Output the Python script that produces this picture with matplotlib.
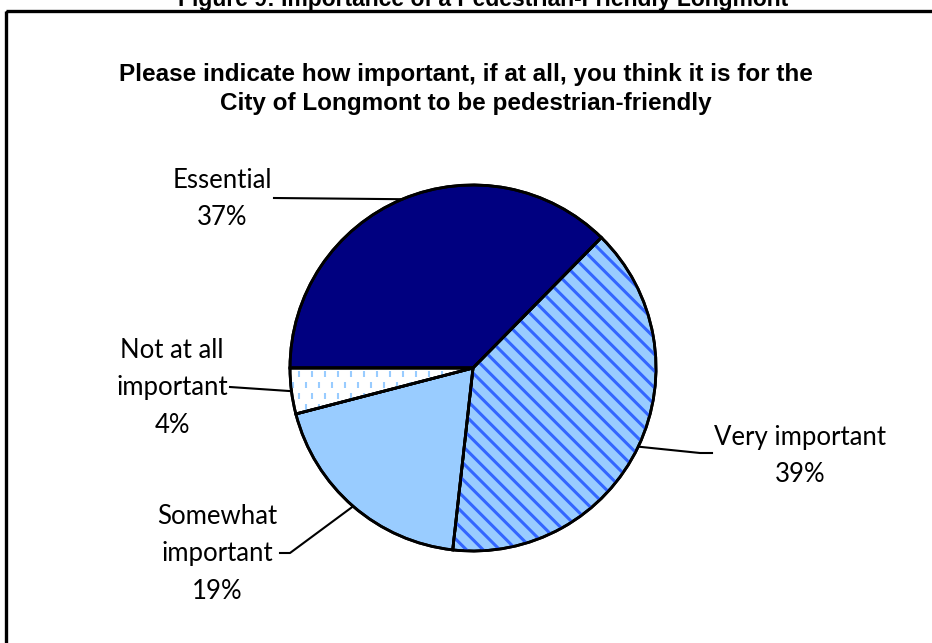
import numpy as np
import matplotlib
matplotlib.use("Agg")
import matplotlib.pyplot as plt
from matplotlib.patches import Wedge, Rectangle
from matplotlib.collections import LineCollection

########  data  ########

labels = ["Essential", "Very important", "Somewhat\nimportant", "Not at all\nimportant"]
values = [37, 39, 19, 4]
pct_labels = ["37%", "39%", "19%", "4%"]
colors = ["#000080", "#99CCFF", "#99CCFF", "#FFFFFF"]

title = ("Please indicate how important, if at all, you think it is for the\n"
         "City of Longmont to be pedestrian-friendly")
fig_title = "Figure 9: Importance of a Pedestrian-Friendly Longmont"

########  layout (pixel coords, y down)  ########

cx, cy, r = 473, 368, 183
label_xy = [(222, 199), (800, 456), (217, 554), (172, 388)]
leader_knees = [[(274, 198)], [(712, 453), (700, 453)], [(280, 553), (290, 553)], [(230, 387)]]

label_font = ["Lato", "DejaVu Sans"]
title_font = ["Liberation Sans", "DejaVu Sans"]

plt.rcParams["hatch.linewidth"] = 2.2

fig = plt.figure(figsize=(9.32, 6.43), dpi=100)
ax = fig.add_axes([0, 0, 1, 1])

wedges, _ = ax.pie(values, colors=colors, startangle=180, counterclock=True,
                   center=(cx, cy), radius=r,
                   wedgeprops=dict(edgecolor="black", linewidth=2))
ax.set_xlim(0, 932)
ax.set_ylim(643, 0)
ax.set_aspect("auto")
ax.axis("off")

# striped fill for "Very important"
w = wedges[1]
ax.add_patch(Wedge((cx, cy), r, w.theta1, w.theta2, facecolor="none",
                   edgecolor="#3366FF", linewidth=0, hatch="\\\\", zorder=2))

# short dashes for "Not at all important"
w = wedges[3]
segs = []
for j, yy in enumerate(np.arange(360, 420, 11)):
    off = 6 if j % 2 else 0
    for xx in np.arange(280 + off, 480, 13):
        segs.append([(xx, yy), (xx, yy + 6)])
lc = LineCollection(segs, colors="#99CCFF", linewidths=1.5, zorder=2)
ax.add_collection(lc)
lc.set_clip_path(w)

# outlines on top
for w in wedges:
    ax.add_patch(Wedge((cx, cy), r, w.theta1, w.theta2, fill=False,
                       edgecolor="black", linewidth=2, zorder=3))

# labels and leader lines
for w, lab, pct, (tx, ty), knees in zip(wedges, labels, pct_labels, label_xy, leader_knees):
    ax.text(tx, ty, lab + "\n" + pct, ha="center", va="center", fontsize=18.5,
            family=label_font, linespacing=1.62)
    a = np.deg2rad((w.theta1 + w.theta2) / 2)
    pts = knees + [(cx + r * np.cos(a), cy + r * np.sin(a))]
    xs, ys = zip(*pts)
    ax.plot(xs, ys, color="black", linewidth=1.5, zorder=4)

ax.text(466, 89, title, ha="center", va="center", fontsize=17.5, fontweight="bold",
        family=title_font, linespacing=1.35)
ax.text(483, 6, fig_title, ha="center", va="baseline", fontsize=16.5, fontweight="bold",
        family=title_font)

# frame
ax.add_patch(Rectangle((5.5, 11), 2000, 2000, fill=False, edgecolor="black",
                       linewidth=2.4, zorder=5))

plt.savefig("out.png", dpi=100)
plt.close()
